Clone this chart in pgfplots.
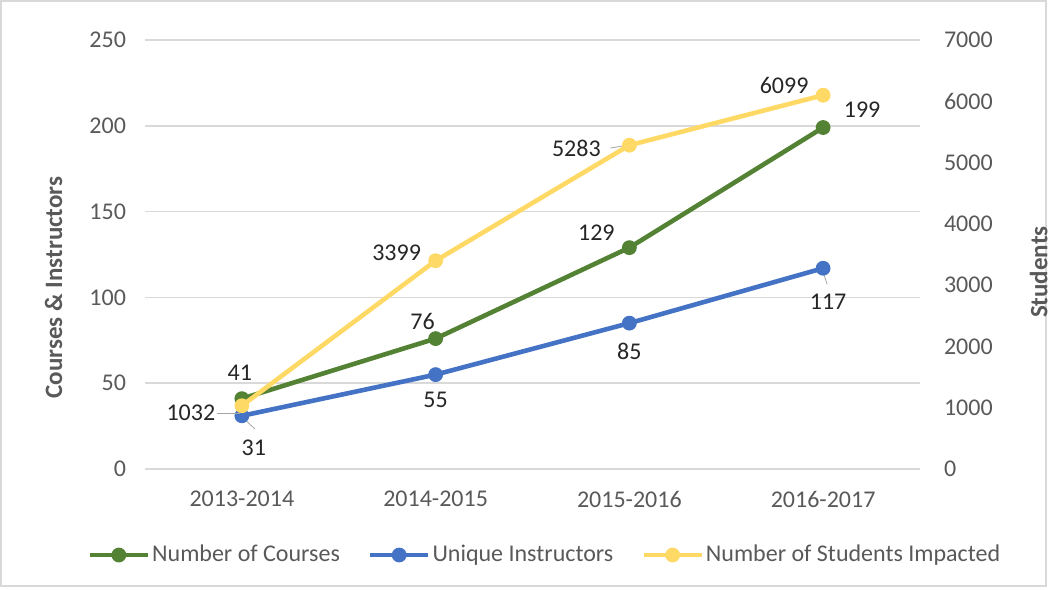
\documentclass[border=0pt]{standalone}
\usepackage{pgfplots}
\pgfplotsset{compat=1.18}
\usepackage{fontspec}
\setmainfont{Carlito}
\definecolor{cgreen}{HTML}{548235}
\definecolor{cblue}{HTML}{4472C4}
\definecolor{cyellow}{HTML}{FFD966}
\definecolor{ctick}{HTML}{595959}
\definecolor{cgrid}{HTML}{D9D9D9}
\definecolor{clab}{HTML}{262626}
\pgfplotstableread{
x courses instructors students
0 41 31 1032
1 76 55 3399
2 129 85 5283
3 199 117 6099
}\datatab
\tikzset{lab/.style={font=\fontsize{12}{14}\selectfont, text=clab, inner sep=0pt}}
\begin{document}
\begin{tikzpicture}
\path[use as bounding box] (0,0) rectangle (528.5pt,-295pt);
\draw[cgrid,line width=0.6pt] (0.5pt,-0.5pt) rectangle (523pt,-293pt);
\pgfplotsset{
  common/.style={
    scale only axis, width=387.5pt, height=214.5pt,
    at={(72.5pt,-234.5pt)}, anchor=south west,
    xmin=-0.5, xmax=3.5,
    major tick length=0,
    /pgf/number format/assume math mode=true,
    /pgf/number format/1000 sep={},
    tick label style={font=\fontsize{12}{14}\selectfont, text=ctick},
    label style={font=\fontsize{12.5}{15}\selectfont\bfseries, text=ctick},
  },
  ser/.style={#1, line width=2.3pt, mark=*, mark size=3.4pt, mark options={solid, line width=0.6pt, fill=#1}},
}
\begin{axis}[common,
  ymin=0, ymax=250, ytick={0,50,...,250},
  xtick={0,1,2,3}, xticklabels={2013-2014,2014-2015,2015-2016,2016-2017},
  xticklabel shift=7.5pt, yticklabel shift=6pt,
  axis line style={draw=none},
  ymajorgrids, grid style={cgrid, line width=0.8pt},
  ylabel={Courses \& Instructors},
  ylabel style={at={(axis description cs:-0.118,0.423)}, anchor=center},
  legend columns=3,
  legend style={at={(axis description cs:0.516,-0.2005)}, anchor=center,
    draw=none, fill=none, font=\fontsize{12}{14}\selectfont, text=ctick,
    /tikz/every even column/.append style={column sep=13pt},
    nodes={inner sep=1pt}},
  legend image code/.code={
    \draw[#1, mark repeat=2, mark phase=2] plot coordinates {(0pt,0pt) (14.5pt,0pt) (29pt,0pt)};
  },
]
\addplot[ser=cgreen] table[x=x,y=courses] {\datatab};
\addlegendentry{Number of Courses}
\addplot[ser=cblue] table[x=x,y=instructors] {\datatab};
\addlegendentry{Unique Instructors}
\addlegendimage{ser=cyellow}
\addlegendentry{Number of Students Impacted}
\node[lab] at ([xshift=-1pt,yshift=12.8pt]axis cs:0,41) {41};
\node[lab] at ([xshift=-6.5pt,yshift=8.8pt]axis cs:1,76) {76};
\node[lab] at ([xshift=-16.5pt,yshift=7.3pt]axis cs:2,129) {129};
\node[lab] at ([xshift=19.5pt,yshift=8.75pt]axis cs:3,199) {199};
\draw[gray!70, line width=0.4pt] ([xshift=1pt,yshift=-1.5pt]axis cs:0,31) -- ([xshift=6.5pt,yshift=-6.5pt]axis cs:0,31);
\node[lab] at ([xshift=6pt,yshift=-16.1pt]axis cs:0,31) {31};
\node[lab] at ([xshift=0pt,yshift=-12.7pt]axis cs:1,55) {55};
\node[lab] at ([xshift=0pt,yshift=-14pt]axis cs:2,85) {85};
\draw[gray!70, line width=0.4pt] ([xshift=0.5pt,yshift=-3.5pt]axis cs:3,117) -- ([xshift=2pt,yshift=-8pt]axis cs:3,117);
\node[lab] at ([xshift=2.5pt,yshift=-16.9pt]axis cs:3,117) {117};
\end{axis}
\begin{axis}[common,
  ymin=0, ymax=7000, ytick={0,1000,...,7000},
  axis y line*=right, axis x line=none,
  yticklabel shift=8.5pt,
  y axis line style={draw=none},
  scaled y ticks=false,
  ylabel={Students},
  ylabel style={at={(axis description cs:1.153,0.459)}, anchor=center, rotate=0},
]
\draw[gray!70, line width=0.4pt] ([xshift=-12.5pt,yshift=-3.6pt]axis cs:0,1032) -- ([xshift=-1pt,yshift=-3.6pt]axis cs:0,1032);
\addplot[ser=cyellow] table[x=x,y=students] {\datatab};
\node[lab] at ([xshift=-25.5pt,yshift=-3.6pt]axis cs:0,1032) {1032};
\node[lab] at ([xshift=-19.5pt,yshift=3.85pt]axis cs:1,3399) {3399};
\draw[gray!70, line width=0.4pt] ([xshift=-9.5pt,yshift=-1.4pt]axis cs:2,5283) -- ([xshift=-1pt,yshift=0pt]axis cs:2,5283);
\node[lab] at ([xshift=-26.5pt,yshift=-1.4pt]axis cs:2,5283) {5283};
\node[lab] at ([xshift=-19.5pt,yshift=5.1pt]axis cs:3,6099) {6099};
\end{axis}
\end{tikzpicture}
\end{document}
